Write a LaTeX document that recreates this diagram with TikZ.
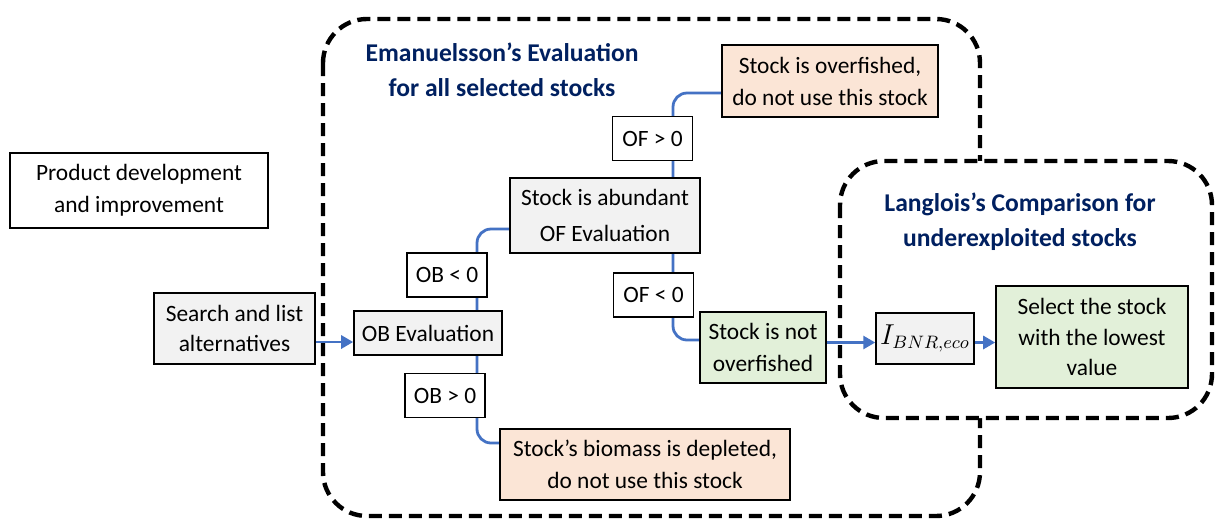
\documentclass[tikz,border=0pt]{standalone}
\usepackage{fontspec}
\setmainfont{Carlito}
\usepackage{tikz}
\usetikzlibrary{arrows.meta,positioning,backgrounds}
\definecolor{linkblue}{HTML}{4472C4}
\definecolor{boxgrey}{HTML}{F2F2F2}
\definecolor{badfill}{HTML}{FBE5D6}
\definecolor{goodfill}{HTML}{E2F0D9}
\definecolor{titleblue}{HTML}{002060}
\tikzset{
  box/.style={draw=black, line width=0.8pt, align=center, inner sep=2pt, font=\fontsize{11.7}{16}\selectfont},
  greybox/.style={box, fill=boxgrey},
  cond/.style={box, fill=white, minimum width=40pt, minimum height=22pt},
  badbox/.style={box, fill=badfill},
  goodbox/.style={box, fill=goodfill},
  arrow/.style={-{Triangle[length=6pt,width=6.5pt]}, draw=linkblue, line width=1.4pt},
  link/.style={draw=linkblue, line width=1.4pt, rounded corners=7pt},
  group/.style={draw=black, line width=2.2pt, dash pattern=on 6.5pt off 3.5pt, rounded corners=22pt},
  grouptitle/.style={font=\bfseries\fontsize{12.8}{17.5}\selectfont, text=titleblue, align=center}
}

\begin{document}
\begin{tikzpicture}[x=0.5pt, y=-0.5pt]
\useasboundingbox (0,0) rectangle (1221,521);
% dashed groups
\begin{scope}[on background layer]
\draw[group] (323,19) rectangle (980,516);
\draw[group, fill=white] (840,161) rectangle (1212,418);
\end{scope}
\node[grouptitle] (evaltitle) at (502,70) {Emanuelsson’s Evaluation\\for all selected stocks};
\node[grouptitle] (comptitle) at (1020,222) {Langlois’s Comparison for\\underexploited stocks};
% left
\node[box, minimum width=129pt, minimum height=37.5pt] (product) at (139,190.5) {Product development\\and improvement};
\node[greybox, minimum width=80.5pt, minimum height=35.5pt, font=\fontsize{11.7}{15}\selectfont] (search) at (234.5,328.5) {Search and list\\alternatives};
% OB step
\node[greybox, minimum width=74pt, minimum height=22pt] (obeval) at (428,333) {OB Evaluation};
\node[cond] (oblt) at (447,275) {OB < 0};
\node[cond] (obgt) at (445,395.5) {OB > 0};
\node[badbox, minimum width=145pt, minimum height=35.5pt] (depleted) at (645,464.5) {Stock’s biomass is depleted,\\do not use this stock};
% OF step
\node[greybox, minimum width=95pt, minimum height=37.5pt, font=\fontsize{11.7}{18}\selectfont] (abundant) at (605,215.5) {Stock is abundant\\OF Evaluation};
\node[cond] (ofgt) at (652.5,138.5) {OF > 0};
\node[cond] (oflt) at (653.5,295) {OF < 0};
\node[badbox, minimum width=108pt, minimum height=36pt] (overfished) at (830,81) {Stock is overfished,\\do not use this stock};
\node[goodbox, minimum width=63pt, minimum height=35.5pt] (notover) at (763,347.5) {Stock is not\\overfished};
% comparison
\node[greybox, minimum width=46pt, minimum height=25.5pt, font=\fontsize{13.5}{15}\selectfont] (ibnr) at (925,338.5) {$I_{BNR,eco}$};
\node[goodbox, minimum width=96pt, minimum height=51pt, font=\fontsize{11.7}{15.25}\selectfont] (select) at (1092,337) {Select the stock\\with the lowest\\value};
% connectors
\begin{scope}[on background layer]
\draw[arrow] ([yshift=-6.75pt]search.east) -- ([yshift=-6.75pt]search.east -| obeval.west);
\draw[link] ([xshift=24.5pt]obeval.north) |- ([yshift=-6.75pt]abundant.west);
\draw[link] ([xshift=24.5pt]obeval.south) |- ([yshift=10.75pt]depleted.west);
\draw[link] ([xshift=34pt]abundant.north) |- ([yshift=-6pt]overfished.west);
\draw[link] ([xshift=34pt]abundant.south) |- ([yshift=3.75pt]notover.west);
\draw[arrow] ([yshift=-2pt]ibnr.west -| notover.east) -- ([yshift=-2pt]ibnr.west);
\draw[arrow] ([yshift=-2pt]ibnr.east) -- ([yshift=-2pt]ibnr.east -| select.west);
\end{scope}
\end{tikzpicture}
\end{document}
